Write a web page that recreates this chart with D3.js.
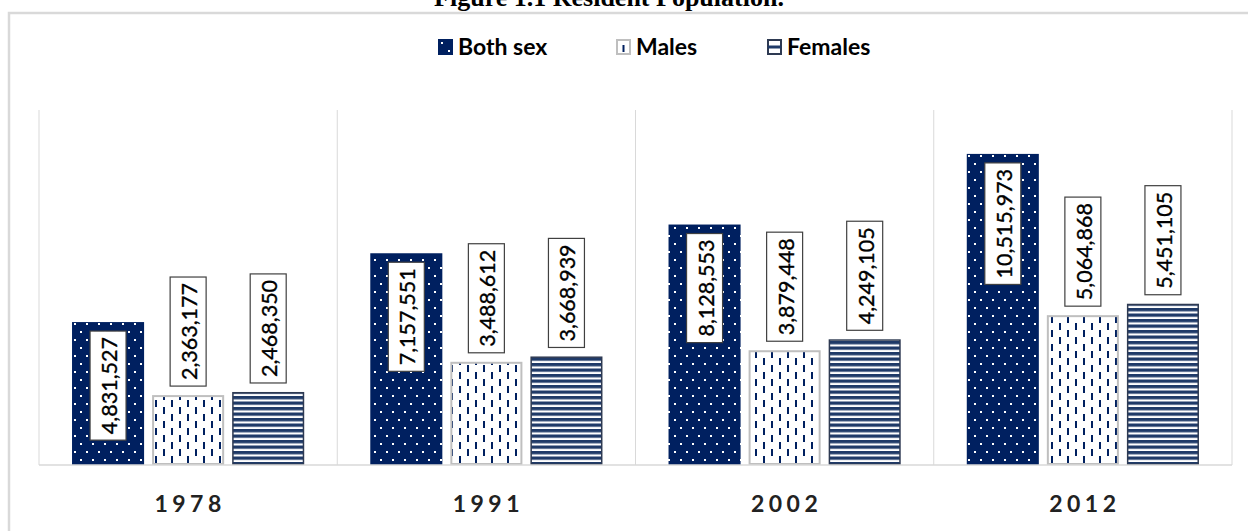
<!DOCTYPE html>
<html>
<head>
<meta charset="utf-8">
<script src="https://cdn.jsdelivr.net/npm/d3@7/dist/d3.min.js"></script>
<style>
  html, body { margin: 0; padding: 0; background: #fff; }
  svg { display: block; }
</style>
</head>
<body>
<svg id="chart" width="1248" height="531"></svg>
<script>
// ---- data ----
const years = ["1978", "1991", "2002", "2012"];
const seriesNames = ["Both sex", "Males", "Females"];
const bothSex = [4831527, 7157551, 8128553, 10515973];
const males   = [2363177, 3488612, 3879448, 5064868];
const females = [2468350, 3668939, 4249105, 5451105];
const titleText = "Figure 1.1 Resident Population.";

const seriesValues = [bothSex, males, females];
const rows = [];
years.forEach((y, i) => seriesNames.forEach((s, j) => rows.push({year: y, series: s, value: seriesValues[j][i]})));

const svg = d3.select("#chart");
const W = 1248, H = 531;
const NAVY = "#002060";
const STRIPE = "#1f3a68";

// ---- patterns ----
const defs = svg.append("defs");
const pDots = defs.append("pattern").attr("id", "pDots").attr("patternUnits", "userSpaceOnUse")
  .attr("width", 12).attr("height", 16);
pDots.append("rect").attr("width", 12).attr("height", 16).attr("fill", NAVY);
pDots.append("rect").attr("x", 2).attr("y", 3).attr("width", 2).attr("height", 2).attr("fill", "#fff");
pDots.append("rect").attr("x", 8).attr("y", 11).attr("width", 2).attr("height", 2).attr("fill", "#fff");

const pDash = defs.append("pattern").attr("id", "pDash").attr("patternUnits", "userSpaceOnUse")
  .attr("width", 16).attr("height", 14);
pDash.append("rect").attr("width", 16).attr("height", 14).attr("fill", "#fff");
pDash.append("rect").attr("x", 3).attr("y", 1).attr("width", 2).attr("height", 7).attr("fill", NAVY);
pDash.append("rect").attr("x", 11).attr("y", 8).attr("width", 2).attr("height", 6).attr("fill", NAVY);
pDash.append("rect").attr("x", 11).attr("y", 0).attr("width", 2).attr("height", 1).attr("fill", NAVY);

const pStripe = defs.append("pattern").attr("id", "pStripe").attr("patternUnits", "userSpaceOnUse")
  .attr("width", 10).attr("height", 5.5);
pStripe.append("rect").attr("width", 10).attr("height", 5.5).attr("fill", "#fff");
pStripe.append("rect").attr("y", 0).attr("width", 10).attr("height", 3.3).attr("fill", STRIPE);

const fills = {"Both sex": "url(#pDots)", "Males": "url(#pDash)", "Females": "url(#pStripe)"};
const strokes = {"Both sex": "none", "Males": "#bfbfbf", "Females": "#2e3a52"};
const strokeW = {"Both sex": 0, "Males": 2, "Females": 1.5};

// ---- title (mostly cropped) ----
svg.append("text").attr("x", 609).attr("y", 6).attr("text-anchor", "middle")
  .attr("font-family", "Liberation Serif, serif").attr("font-weight", "bold").attr("font-size", 26)
  .attr("fill", "#000").text(titleText);

// ---- frame ----
svg.append("rect").attr("x", 9).attr("y", 13).attr("width", W + 20).attr("height", H + 20)
  .attr("fill", "none").attr("stroke", "#d9d9d9").attr("stroke-width", 2.5);

// ---- scales ----
const x0 = d3.scaleBand().domain(years).range([39, 1232]).paddingInner(0).paddingOuter(0);
const x1 = d3.scaleBand().domain(seriesNames).range([0, x0.bandwidth()]).paddingInner(0.1).paddingOuter(0.4125);
const y = d3.scaleLinear().domain([0, 12000000]).range([465, 110]);

// ---- gridlines (category separators) ----
const gridX = years.map(d => x0(d)).concat([x0.range()[1]]);
svg.append("g").selectAll("line").data(gridX).join("line")
  .attr("x1", d => d).attr("x2", d => d).attr("y1", y.range()[1]).attr("y2", y(0))
  .attr("stroke", "#d9d9d9").attr("stroke-width", 1);

// ---- bars ----
const bars = svg.append("g");
bars.selectAll("rect").data(rows).join("rect")
  .attr("x", d => x0(d.year) + x1(d.series) + strokeW[d.series] / 2)
  .attr("y", d => y(d.value) + strokeW[d.series] / 2)
  .attr("width", d => x1.bandwidth() - strokeW[d.series])
  .attr("height", d => y(0) - y(d.value) - strokeW[d.series])
  .attr("fill", d => fills[d.series])
  .attr("stroke", d => strokes[d.series])
  .attr("stroke-width", d => strokeW[d.series]);

// ---- baseline ----
svg.append("line").attr("x1", x0.range()[0]).attr("x2", x0.range()[1]).attr("y1", y(0)).attr("y2", y(0))
  .attr("stroke", "#d9d9d9").attr("stroke-width", 1.5);

// ---- data labels ----
const fmt = d3.format(",");
const lab = svg.append("g");
rows.forEach(d => {
  const cx = x0(d.year) + x1(d.series) + x1.bandwidth() / 2;
  const g = lab.append("g");
  const t = g.append("text").attr("font-family", "Lato, 'Open Sans', sans-serif").attr("font-size", 21.5)
    .attr("fill", "#000").attr("text-anchor", "middle").attr("dominant-baseline", "central")
    .attr("stroke", "#000").attr("stroke-width", 0.35)
    .text(fmt(d.value));
  const len = t.node().getComputedTextLength();
  const bh = len + 12, bw = 36;
  const top = d.series === "Both sex" ? y(d.value) + 9 : y(d.value) - 9 - bh;
  const cy = top + bh / 2;
  g.insert("rect", "text").attr("x", cx - bw / 2).attr("y", top).attr("width", bw).attr("height", bh)
    .attr("fill", "#fff").attr("stroke", "#404040").attr("stroke-width", 1.2);
  t.attr("transform", `translate(${cx + 1},${cy}) rotate(-90)`);
});

// ---- year axis labels ----
svg.append("g").selectAll("text").data(years).join("text")
  .attr("x", d => x0(d) + x0.bandwidth() / 2 + 2).attr("y", 512)
  .attr("text-anchor", "middle").attr("font-family", "Lato, 'Open Sans', sans-serif")
  .attr("font-weight", "bold").attr("font-size", 23).attr("letter-spacing", 4.5).attr("fill", "#222")
  .text(d => d);

// ---- legend ----
const legendX = [438, 616, 767];
const leg = svg.append("g");
seriesNames.forEach((s, i) => {
  const gx = legendX[i];
  const g = leg.append("g").attr("transform", `translate(${gx},39)`);
  if (s === "Both sex") {
    g.append("rect").attr("width", 15).attr("height", 16).attr("fill", NAVY);
    g.append("rect").attr("x", 3).attr("y", 3).attr("width", 2).attr("height", 2).attr("fill", "#fff");
    g.append("rect").attr("x", 10).attr("y", 11).attr("width", 2).attr("height", 2).attr("fill", "#fff");
  } else if (s === "Males") {
    g.append("rect").attr("x", 1).attr("y", 1).attr("width", 13).attr("height", 14).attr("fill", "#fff")
      .attr("stroke", "#bfbfbf").attr("stroke-width", 2);
    g.append("rect").attr("x", 6.5).attr("y", 6).attr("width", 2).attr("height", 7).attr("fill", NAVY);
  } else {
    g.append("rect").attr("x", 1).attr("y", 1).attr("width", 13).attr("height", 14).attr("fill", "#fff")
      .attr("stroke", "#2e3a52").attr("stroke-width", 2);
    g.append("rect").attr("x", 1).attr("y", 6.5).attr("width", 13).attr("height", 3).attr("fill", STRIPE);
  }
  g.append("text").attr("x", 20).attr("y", 16).attr("font-family", "Lato, 'Open Sans', sans-serif")
    .attr("font-weight", "bold").attr("font-size", 23).attr("fill", "#000").text(s);
});
</script>
</body>
</html>
